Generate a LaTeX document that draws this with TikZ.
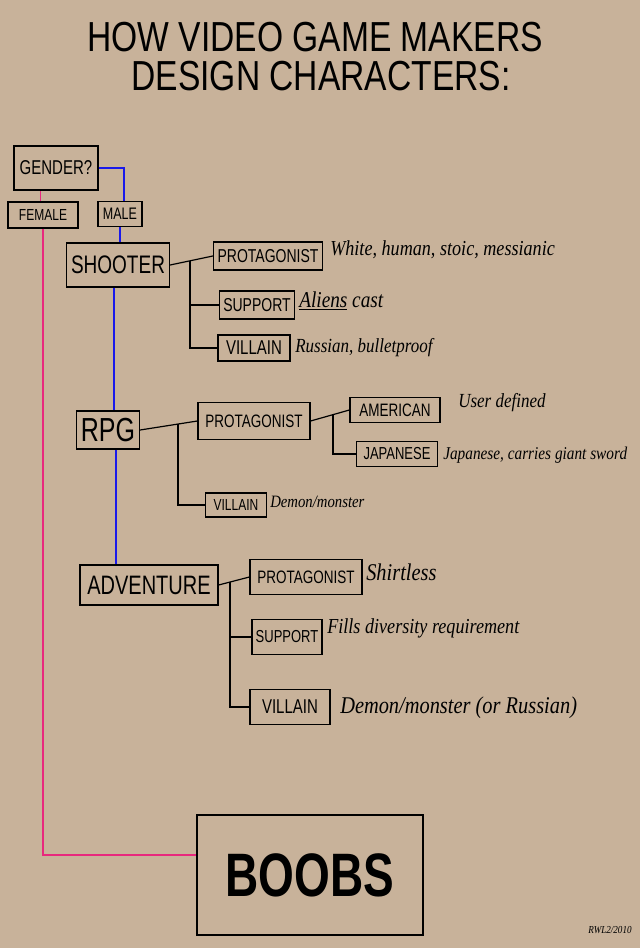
\documentclass[tikz,border=0pt]{standalone}
\usepackage{fontspec}
\setmainfont{Liberation Sans}
\newfontfamily\labfont[FakeStretch=0.75]{Liberation Sans}
\newfontfamily\titlefont[FakeStretch=0.8]{Liberation Sans}
\newfontfamily\handfont[FakeStretch=0.85]{Liberation Serif}
\newcommand\fsz[1]{\fontsize{#1}{#1}\selectfont}
\definecolor{bgtan}{RGB}{200,178,154}
\definecolor{malecol}{RGB}{25,25,235}
\definecolor{femcol}{RGB}{232,40,125}
\begin{document}
\begin{tikzpicture}[x=0.75pt,y=-0.75pt,
  sz/.style 2 args={minimum width=#1*0.75pt, minimum height=#2*0.75pt},
  lb/.style={draw, line width=0.9pt, inner sep=0pt, font=\labfont\fsz{#1}},
  ds/.style={anchor=west, inner sep=0pt, font=\handfont\itshape\fsz{#1}},
  titlef/.style={inner sep=0pt, font=\titlefont\fsz{31.5}},
  conn/.style={line width=0.9pt},
  maleline/.style={draw=malecol, line width=1pt},
  femline/.style={draw=femcol, line width=1pt}]
\fill[bgtan] (0,0) rectangle (640,948);
\useasboundingbox (0,0) rectangle (640,948);

% title
\node[titlef] (t1) at (315,37) {HOW VIDEO GAME MAKERS};
\node[titlef] (t2) at (321,76) {DESIGN CHARACTERS:};

% gender level
\node[lb=15, sz={84}{44}] (gender) at (56,168) {GENDER?};
\node[lb=12, sz={70}{26}] (female) at (43,215) {FEMALE};
\node[lb=12.5, sz={44}{25}] (male) at (120,214) {MALE};

% genres
\node[lb=19, sz={103}{44}] (shooter) at (118,265) {SHOOTER};
\node[lb=25, sz={63}{38}] (rpg) at (108,430) {RPG};
\node[lb=20, sz={138}{40}] (adv) at (149,585) {ADVENTURE};

% shooter roles
\node[lb=14, sz={109}{28}] (sp) at (268,256) {PROTAGONIST};
\node[lb=14, sz={75}{28}] (ss) at (257,305) {SUPPORT};
\node[lb=15, sz={72}{26}] (sv) at (254,348) {VILLAIN};

% rpg roles
\node[lb=13.5, sz={112}{37}] (rp) at (254,421) {PROTAGONIST};
\node[lb=13.5, sz={90}{25}] (am) at (395,410) {AMERICAN};
\node[lb=13, sz={81}{25}] (jp) at (397,454) {JAPANESE};
\node[lb=12, sz={61}{24}] (rv) at (236,505) {VILLAIN};

% adventure roles
\node[lb=13.5, sz={112}{35}] (ap) at (306,577) {PROTAGONIST};
\node[lb=13, sz={70}{35}] (as) at (287,637) {SUPPORT};
\node[lb=15, sz={80}{35}] (avl) at (290,707) {VILLAIN};

% boobs
\node[draw, line width=0.9pt, inner sep=0pt, sz={226}{120}, font=\labfont\bfseries\fsz{46}] (boobs) at (310,875) {BOOBS};

% descriptions
\node[ds=16] (d1) at (330,250) {White, human, stoic, messianic};
\node[ds=17] (d2) at (299,301) {\underline{Aliens} cast};
\node[ds=15] (d3) at (295,348) {Russian, bulletproof};
\node[ds=15] (d4) at (458,403) {User defined};
\node[ds=13.5] (d5) at (443,455) {Japanese, carries giant sword};
\node[ds=13] (d6) at (270,502) {Demon/monster};
\node[ds=18] (d7) at (366,572) {Shirtless};
\node[ds=16] (d8) at (327,628) {Fills diversity requirement};
\node[ds=18] (d9) at (340,708) {Demon/monster (or Russian)};
\node[inner sep=0pt, font=\handfont\itshape\fsz{8}] (sig) at (610,930) {RWL2/2010};

% gender connectors
\draw[maleline] (gender.east) -| ([xshift=3pt]male.north);
\draw[maleline] (male.south) -- (male.south |- shooter.north);
\draw[maleline] ([xshift=-3pt]shooter.south) -- ([xshift=-3pt]shooter.south |- rpg.north);
\draw[maleline] ([xshift=6pt]rpg.south) -- ([xshift=6pt]rpg.south |- adv.north);
\draw[femline] ([xshift=-2pt]female.north) -- ([xshift=-2pt]female.north |- gender.south);
\draw[femline] (female.south) |- ([yshift=15pt]boobs.west);

% shooter tree
\coordinate (s1) at (190,261);
\draw[conn] (shooter.east) -- (sp.west);
\draw[conn] (s1) |- (ss.west);
\draw[conn] (s1) |- (sv.west);

% rpg tree
\coordinate (r1) at (178,424);
\draw[conn] (rpg.east) -- (rp.west);
\draw[conn] (r1) |- (rv.west);
\coordinate (r2) at (333,415);
\draw[conn] (rp.east) -- (am.west);
\draw[conn] (r2) |- (jp.west);

% adventure tree
\coordinate (a1) at (230,582);
\draw[conn] (adv.east) -- (ap.west);
\draw[conn] (a1) |- (as.west);
\draw[conn] (a1) |- (avl.west);
\end{tikzpicture}
\end{document}
